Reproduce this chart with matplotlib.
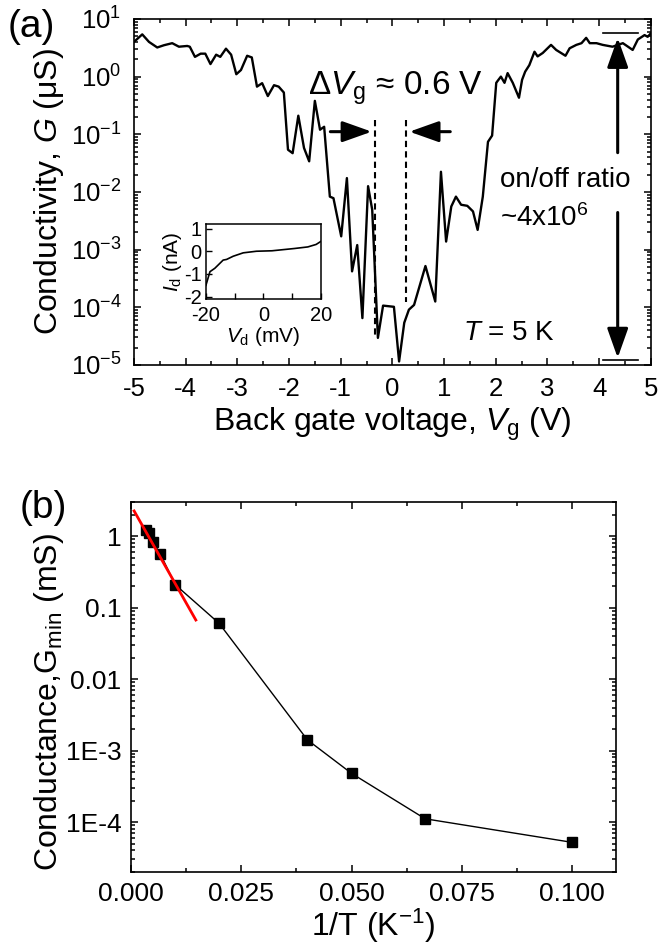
import matplotlib
matplotlib.use('Agg')
import matplotlib.pyplot as plt
import numpy as np
from matplotlib.ticker import LogLocator, MultipleLocator, FixedLocator, FixedFormatter, NullFormatter

plt.rcParams['font.family'] = ['Liberation Sans', 'DejaVu Sans']
plt.rcParams['mathtext.fontset'] = 'custom'
plt.rcParams['mathtext.rm'] = 'Liberation Sans'
plt.rcParams['mathtext.it'] = 'Liberation Sans:italic'
plt.rcParams['mathtext.bf'] = 'Liberation Sans:bold'
plt.rcParams['axes.linewidth'] = 1.2
plt.rcParams['axes.unicode_minus'] = False

# (a) conductivity vs back gate voltage, T = 5 K
vg = [-5.0, -4.84, -4.71, -4.55, -4.42, -4.26, -4.13, -3.97, -3.92, -3.82, -3.71, -3.62,
      -3.52, -3.41, -3.33, -3.22, -3.12, -3.02, -2.93, -2.81, -2.72, -2.62, -2.52, -2.41,
      -2.29, -2.20, -2.10, -2.02, -1.93, -1.82, -1.71, -1.61, -1.50, -1.40, -1.32, -1.21,
      -1.14, -0.99, -0.88, -0.78, -0.68, -0.58, -0.47, -0.39, -0.28, -0.18, 0.03, 0.13,
      0.23, 0.32, 0.42, 0.64, 0.83, 0.94, 1.04, 1.14, 1.23, 1.33, 1.45, 1.56, 1.65, 1.75,
      1.85, 1.93, 2.01, 2.04, 2.10, 2.17, 2.23, 2.33, 2.45, 2.51, 2.57, 2.65, 2.75, 2.81,
      2.91, 3.07, 3.17, 3.35, 3.43, 3.56, 3.66, 3.75, 3.82, 3.95, 4.07, 4.26, 4.46, 4.56,
      4.65, 4.75, 4.88, 4.94, 5.0]
g_us = [4.0, 5.4, 4.0, 3.2, 3.5, 3.8, 3.3, 3.4, 3.3, 2.2, 2.5, 2.5,
        1.65, 2.4, 2.2, 3.05, 2.4, 1.1, 1.3, 2.3, 2.15, 0.67, 0.77, 0.46,
        0.71, 0.67, 0.53, 0.054, 0.047, 0.21, 0.058, 0.034, 0.38, 0.12, 0.135, 0.0083,
        0.0078, 0.0017, 0.0174, 4.2e-4, 1.2e-3, 6.5e-5, 0.0126, 0.0049, 2.95e-5, 1.07e-4, 1.02e-4, 1.15e-5,
        5.4e-5, 9.1e-5, 1.1e-4, 5.2e-4, 1.26e-4, 0.0224, 1.38e-3, 5.6e-3, 8.3e-3, 6.0e-3, 5.75e-3, 4.6e-3, 2.2e-3, 8.3e-3,
        0.074, 0.095, 0.78, 0.85, 1.0, 0.78, 1.15, 0.78, 0.43, 0.88, 1.22, 1.58, 2.7, 2.24,
        2.57, 3.55, 2.9, 2.3, 3.1, 3.55, 3.8, 4.7, 3.8, 3.8, 3.55, 3.3, 3.8, 3.3,
        2.9, 4.4, 5.25, 4.9, 5.6]

# inset: I-V at fixed gate
vd = [-20, -18.6, -16.9, -14, -12.8, -10.5, -7, -2.4, 3, 10.8, 15.5, 18.4, 20]
i_d = [-1.5, -0.9, -0.75, -0.39, -0.36, -0.22, -0.07, 0.0, 0.02, 0.12, 0.19, 0.3, 0.43]

# (b) minimum conductance vs 1/T
inv_t = [0.00333, 0.004, 0.005, 0.00667, 0.01, 0.02, 0.04, 0.05, 0.0667, 0.1]
g_min = [1.2, 1.1, 0.82, 0.56, 0.21, 0.060, 1.41e-3, 4.8e-4, 1.11e-4, 5.2e-5]
fit_x = [0.0007, 0.0147]
fit_g = [2.25, 0.067]

b_xticks = [0.0, 0.025, 0.05, 0.075, 0.1]
b_xlabels = ['0.000', '0.025', '0.050', '0.075', '0.100']
b_yticks = [1, 0.1, 0.01, 1e-3, 1e-4]
b_ylabels = ['1', '0.1', '0.01', '1E-3', '1E-4']

fig = plt.figure(figsize=(6.6, 9.47), dpi=100)

# ---------- panel (a)
ax = fig.add_axes([0.203, 0.6146, 0.783, 0.3654])
ax.semilogy(vg, g_us, 'k-', lw=1.7)
ax.set_xlim(-5, 5)
ax.set_ylim(1e-5, 1e1)
ax.xaxis.set_major_locator(MultipleLocator(1))
ax.xaxis.set_minor_locator(MultipleLocator(0.5))
ax.yaxis.set_major_locator(LogLocator(base=10, numticks=10))
ax.yaxis.set_minor_locator(LogLocator(base=10, subs=np.arange(2, 10), numticks=10))
ax.yaxis.set_minor_formatter(NullFormatter())
ax.tick_params(which='both', direction='in', top=True, right=True, labelsize=18.5, width=1.1)
ax.tick_params(which='major', length=5, pad=9)
ax.tick_params(which='minor', length=3)
ax.set_xlabel('Back gate voltage, $V_\\mathrm{g}$ (V)', fontsize=23, labelpad=3)
ax.set_ylabel('Conductivity, $G$ (\u03bcS)', fontsize=23, labelpad=3)

# gap marks
ax.plot([-0.33, -0.33], [0.178, 2.95e-5], color='k', lw=1.5, dashes=(3, 2))
ax.plot([0.27, 0.27], [0.178, 1.26e-4], color='k', lw=1.5, dashes=(3, 2))
arr = dict(arrowstyle='-|>,head_length=0.9,head_width=0.32', mutation_scale=20,
           lw=2.2, color='k', shrinkA=0, shrinkB=0)
ax.annotate('', xy=(-0.40, 0.111), xytext=(-1.2, 0.111), arrowprops=arr)
ax.annotate('', xy=(0.33, 0.111), xytext=(1.12, 0.111), arrowprops=arr)
ax.text(0.07, 0.48, '\u0394$V_\\mathrm{g}$ \u2248 0.6 V', fontsize=24, ha='center', va='baseline')

# on/off ratio
ax.plot([4.07, 4.75], [5.65, 5.65], 'k-', lw=1.2)
ax.plot([4.07, 4.75], [1.2e-5, 1.2e-5], 'k-', lw=1.2)
ax.annotate('', xy=(4.36, 4.7), xytext=(4.36, 0.048), arrowprops=arr)
ax.annotate('', xy=(4.36, 1.33e-5), xytext=(4.36, 4.4e-3), arrowprops=arr)
ax.text(2.08, 0.0162, 'on/off ratio', fontsize=20, ha='left', va='center')
ax.text(2.08, 3.5e-3, '~4x10$^{6}$', fontsize=20, ha='left', va='center')
ax.text(1.36, 3.6e-5, '$T$ = 5 K', fontsize=20, ha='left', va='center')

fig.text(0.012, 0.99, '(a)', fontsize=28, ha='left', va='top')

# inset
axi = fig.add_axes([0.312, 0.6843, 0.174, 0.0792])
axi.plot(vd, i_d, 'k-', lw=1.2)
axi.set_xlim(-20, 20)
axi.set_ylim(-2.1, 1.2)
axi.xaxis.set_major_locator(MultipleLocator(20))
axi.xaxis.set_minor_locator(MultipleLocator(10))
axi.yaxis.set_major_locator(MultipleLocator(1))
axi.tick_params(which='both', direction='in', labelsize=14.5, width=1.0)
axi.tick_params(axis='x', pad=5)
axi.tick_params(axis='y', pad=3)
axi.tick_params(which='major', length=4)
axi.tick_params(which='minor', length=4)
axi.set_xlabel('$V_\\mathrm{d}$ (mV)', fontsize=15, labelpad=0)
axi.set_ylabel('$I_\\mathrm{d}$ (nA)', fontsize=15, labelpad=0)
for s in axi.spines.values():
    s.set_linewidth(1.1)

# ---------- panel (b)
bx = fig.add_axes([0.1985, 0.0792, 0.735, 0.3907])
bx.semilogy(inv_t, g_min, 'k-', lw=1.0, marker='s', ms=6.5, mfc='k', mec='k')
bx.semilogy(fit_x, fit_g, '-', color='#ff0000', lw=2.0)
bx.set_xlim(0, 0.11)
bx.set_ylim(2e-5, 3.0)
bx.xaxis.set_major_locator(FixedLocator(b_xticks))
bx.xaxis.set_major_formatter(FixedFormatter(b_xlabels))
bx.xaxis.set_minor_locator(MultipleLocator(0.0125))
bx.yaxis.set_major_locator(FixedLocator(b_yticks))
bx.yaxis.set_major_formatter(FixedFormatter(b_ylabels))
bx.yaxis.set_minor_locator(LogLocator(base=10, subs=np.arange(2, 10), numticks=10))
bx.yaxis.set_minor_formatter(NullFormatter())
bx.tick_params(which='both', direction='in', top=True, right=True, labelsize=19, width=1.1)
bx.tick_params(which='major', length=5, pad=7)
bx.tick_params(which='minor', length=3)
bx.set_xlabel('1/T (K$^{-1}$)', fontsize=23, labelpad=1)
bx.set_ylabel('Conductance,$\\mathregular{G_{min}}$ (mS)', fontsize=23, labelpad=3)
bx.yaxis.set_label_coords(-0.135, 0.46)

fig.text(0.03, 0.483, '(b)', fontsize=28, ha='left', va='top')

fig.savefig('out.png', dpi=100)
